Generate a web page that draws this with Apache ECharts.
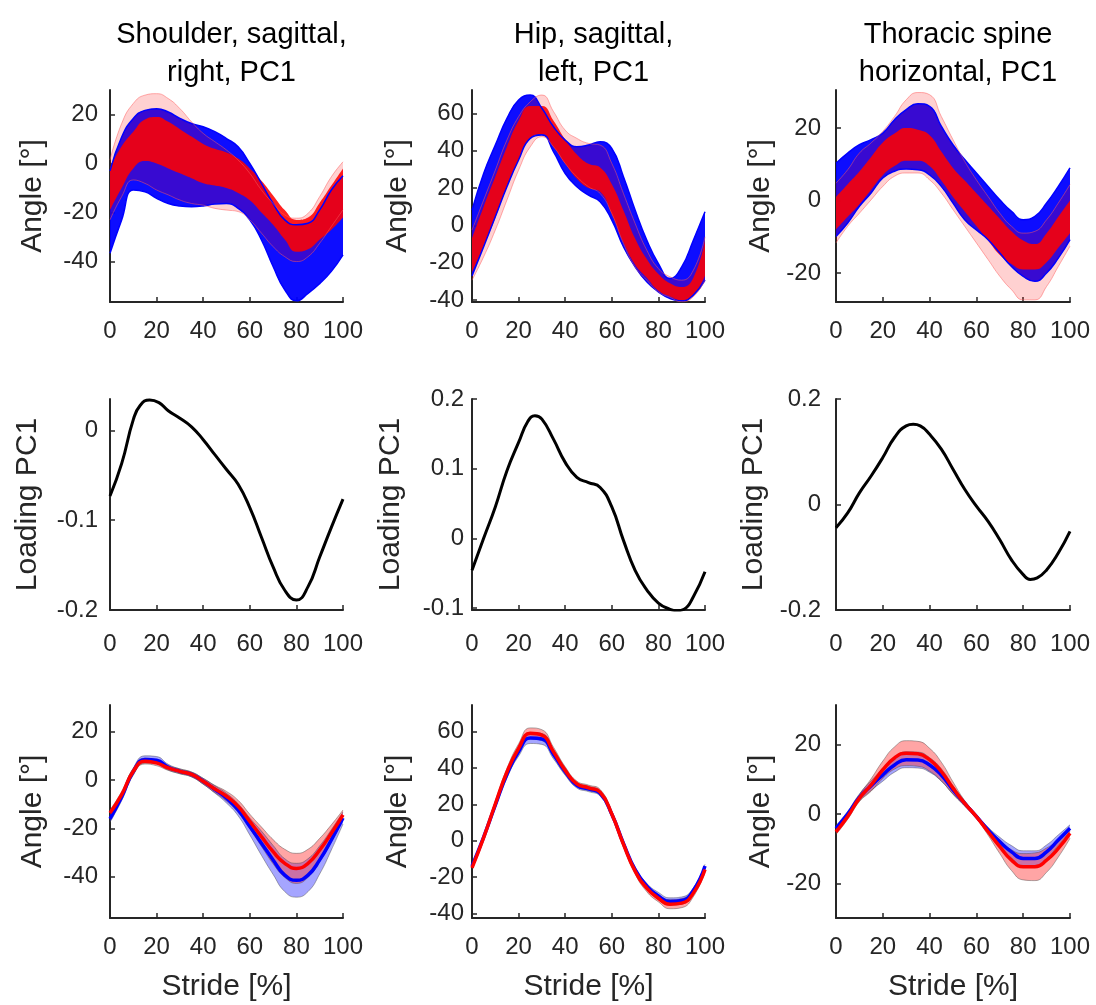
<!DOCTYPE html>
<html><head><meta charset="utf-8">
<script src="https://cdn.jsdelivr.net/npm/echarts@6/dist/echarts.min.js"></script>
<style>html,body{margin:0;padding:0;background:#fff}#c{width:1096px;height:1005px}</style>
</head><body><div id="c"></div><script>
// ---------------- DATA ----------------
const stride = [0,5,10,15,20,25,30,35,40,45,50,55,60,65,70,75,80,85,90,95,100];
const xTickLabels = [0,20,40,60,80,100];
const panelTitles = ['Shoulder, sagittal,\nright, PC1', 'Hip, sagittal,\nleft, PC1', 'Thoracic spine\nhorizontal, PC1'];
const angleName = 'Angle [°]';
const loadingName = 'Loading PC1';
const strideName = 'Stride [%]';

const yTicksShoulder = [-40,-20,0,20];
const yTicksHip = [-40,-20,0,20,40,60];
const yTicksThor = [-20,0,20];
const yTicksLoadShoulder = [-0.2,-0.1,0];
const yTicksLoadHip = [-0.1,0,0.1,0.2];
const yTicksLoadThor = [-0.2,0,0.2];

// Row 1: curve envelopes (group 1 blue, group 2 red)
const shBlueHi = [-3,10.8,18.4,21.7,22.4,21,18.4,16.3,15,13,10.2,6.8,0,-8.1,-16.3,-23,-25,-24.4,-18.9,-10.8,-5];
const shBlueLo = [-36.6,-23,-10.8,-11.5,-14.2,-16.3,-17.3,-17.6,-17.3,-16.5,-16.3,-18.3,-23,-31.2,-42,-51.5,-56,-53,-49,-44,-37.3];
const shRedOutHi = [1.4,16.3,24.5,27.9,28.5,26.5,22.4,17,12.3,8.9,5.5,1.4,-4,-10.8,-16.3,-21,-22.3,-20.3,-13.5,-5.4,0.7];
const shRedOutLo = [-23,-13.5,-6.7,-8.1,-10.8,-12.8,-14.9,-16.3,-17,-18.3,-19,-19.6,-23,-28.4,-33.9,-38,-40,-38,-32.5,-25.7,-18.9];
const shRedCoreHi = [-2,7,13,18,19,17,14,11,8,6,4.5,2,-2,-7,-13,-19,-23,-22,-16,-9,-2];
const shRedCoreLo = [-19,-10,-2,1,0,-2,-4,-6,-8,-9,-10,-12,-15,-20,-25,-31,-36,-35,-31,-27,-22];

const hipBlueHi = [8.2,27.8,43,57.3,67.1,69.8,62.7,52.8,45.7,42.1,43,44.8,41.2,26.1,8.2,-7.9,-20.4,-28.4,-22.2,-7.9,7.3];
const hipBlueLo = [-27,-11.4,4.6,20.7,35,46.6,48.4,39.4,27.8,20.7,16.2,12.7,2.8,-11.4,-22.2,-30.2,-35.6,-39.1,-40.5,-37.3,-29.3];
const hipRedOutHi = [-2.5,13.6,29.6,45.7,58.2,66.2,69.8,60.9,51,46.6,43.9,43,33.2,17.1,1.1,-13.2,-23.1,-27.5,-29.3,-24,-6.1];
const hipRedOutLo = [-29.3,-16.8,-2.5,13.6,29.6,42.1,47.5,42.1,33.2,26.1,20.7,17.1,6.4,-9.7,-22.2,-29.3,-35.5,-38.5,-40.9,-38.2,-29.3];
const hipRedCoreHi = [-7,10,26,42,56,64,64,56,46,38,33,31,22,8,-7,-18,-26,-31,-33,-28,-8];
const hipRedCoreLo = [-25,-11,4,21,35,47,49,42,33,25,20,18,6,-9,-21,-28,-35,-38,-40,-37,-27];

const thBlueHi = [10.3,13.1,15.4,16.8,18.6,22.3,25.1,26.7,26,20.5,15.4,11.3,7.6,3.9,0.2,-3,-5.3,-4.4,-0.7,3.9,9];
const thBlueLo = [-9.9,-6.2,-1.6,2.1,6.2,8.1,8.7,8.5,7.1,3.9,-0.7,-5.3,-8.1,-10.8,-14.5,-18.2,-20.9,-22.3,-20,-15.9,-10.8];
const thRedOutHi = [4.8,8.5,13.1,15.9,19.1,23.2,27.8,29.8,29.2,23.2,16.8,10.8,5.7,1.1,-3.5,-7.1,-9,-8.5,-5.3,-0.7,4.4];
const thRedOutLo = [-11.7,-7.1,-3.5,0.2,3.9,6.7,7.6,7.6,5.7,2.1,-2.5,-7.1,-11.7,-16.3,-20.9,-24.6,-27.4,-27.4,-23.7,-18.2,-12.6];
const thRedCoreHi = [1,4.5,8,12,16,18.5,20,19.5,18,13.5,9,5.5,2,-1.5,-5,-8.5,-11,-12,-9,-4.5,0];
const thRedCoreLo = [-8,-4.5,-1,3,7,9.5,11,11,9.5,5.5,1,-3,-7,-11,-15,-17.5,-19,-19,-17,-13,-9];

// Row 2: PC1 loadings (stride positions and values)
const loadShoulderX = [0,5,10,13,17,21,25,30,35,40,45,50,55,60,65,70,75,80,85,90,95,100];
const loadShoulder = [-0.073,-0.037,0.012,0.028,0.034,0.031,0.022,0.0136,0.004,-0.0103,-0.027,-0.0435,-0.06,-0.086,-0.119,-0.152,-0.178,-0.189,-0.174,-0.141,-0.108,-0.0766];
const loadHipX = [0,5,10,15,20,24,27,30,35,40,45,50,55,60,65,70,75,80,85,88,91,95,100];
const loadHip = [-0.046,0,0.045,0.097,0.1376,0.168,0.176,0.171,0.142,0.109,0.0876,0.080,0.073,0.045,-0.003,-0.046,-0.074,-0.093,-0.102,-0.104,-0.102,-0.084,-0.048];
const loadThorX = [0,5,10,15,20,25,30,33,36,40,45,50,55,60,65,70,75,80,83,86,90,95,100];
const loadThor = [-0.044,-0.016,0.022,0.054,0.089,0.127,0.149,0.152,0.149,0.133,0.105,0.067,0.029,-0.003,-0.032,-0.067,-0.105,-0.133,-0.142,-0.139,-0.124,-0.092,-0.051];

// Row 3: group means and spreads
const shMeanBlue = [-16,-7,3.5,8.5,8.2,5.3,3.6,2.3,-0.5,-3.9,-7.5,-12.3,-19.2,-26.1,-33,-39.3,-41.4,-39.3,-33,-24.7,-15.7];
const shMeanRed = [-13.6,-6,3.6,7.8,7.1,5,3.6,2.3,-0.5,-3.7,-6.7,-10.9,-17.1,-23.4,-29.6,-34.4,-36.5,-34.4,-28.9,-22,-14.4];
const shSdBlue = [1.5,1.5,1.5,1.5,1.5,1.2,1,1,1.2,1.5,2,2.5,3.5,5,6,6.8,7,6.8,5.8,4.2,2.5];
const shSdRed = [1.2,1.2,1.2,1.2,1.2,1,1,1,1.2,1.5,2,2.5,3,4,5,5.8,6.2,5.8,4.8,3.5,2];

const hipMeanBlue = [-14,2,19.5,36.5,49,56.5,56,47.5,38,30.5,28.5,26,14.5,-1.5,-16,-25,-30.5,-33.5,-33,-27.5,-14];
const hipMeanRed = [-15,1.7,20.2,37.8,50.8,59.1,58.1,48.9,38.7,31.3,29.1,26.7,14.7,-2,-16.8,-26.1,-31.7,-35,-34.4,-28.9,-15.9];
const hipSdBlue = [0.8,1,1.5,2,2.5,3,3,2.5,2,1.5,1.5,1.5,1.2,1.2,1.5,1.5,2,2,2,1.5,1];
const hipSdRed = [0.8,1,1.5,2,2.5,3,3,2.5,2,1.5,1.5,1.5,1.5,1.5,1.5,2,2,2.5,2.5,2,1.5];

const thMeanBlue = [-4.1,0,4.8,8.2,11.3,14.2,15.7,15.6,14.2,11.3,7,3.1,-0.7,-4.6,-8,-10.9,-12.8,-12.8,-10.9,-7.5,-4.1];
const thMeanRed = [-5.1,-0.7,4.6,8.4,12.8,16.2,17.6,17.4,15.7,12.3,7.5,3.1,-0.7,-5.1,-9.4,-13.3,-15.2,-15.2,-13.3,-9.9,-5.5];
const thSdBlue = [0.8,0.8,1,1.4,1.8,2.1,2.3,2.3,2.1,1.8,1.2,0.7,0.5,0.8,1.3,1.8,2.2,2.2,2,1.5,1];
const thSdRed = [0.8,0.8,1,1.8,2.5,3.2,3.6,3.6,3.3,2.7,1.8,0.8,0.5,1,2,3,3.8,4,3.5,2.5,1.5];

// ---------------- LAYOUT / STYLE ----------------
const FONT = '"Liberation Sans", Arial, Helvetica, sans-serif';
const INK = '#262626';
const SM = 0.5;
const colLeft = [110, 472, 836];
const colWidth = [233, 233, 234];
const rowTop = [90, 399, 705];
const rowHeight = [212, 211, 213];
const yLabelMargin = [12, 8, 15];
const yNameGap = [[62, 59, 60], [67, 66, 67], [62, 59, 60]];
const xLabelMargin = [17, 22, 17];

const panels = [
  {min:-56.5, max:30, ticks:yTicksShoulder, name:angleName},
  {min:-41, max:72.5, ticks:yTicksHip, name:angleName},
  {min:-28, max:30.5, ticks:yTicksThor, name:angleName},
  {min:-0.2, max:0.035, ticks:yTicksLoadShoulder, name:loadingName},
  {min:-0.103, max:0.2, ticks:yTicksLoadHip, name:loadingName},
  {min:-0.2, max:0.2, ticks:yTicksLoadThor, name:loadingName},
  {min:-57, max:31, ticks:yTicksShoulder, name:angleName},
  {min:-42.6, max:74.7, ticks:yTicksHip, name:angleName},
  {min:-30, max:31.5, ticks:yTicksThor, name:angleName}
];

const grid = [], xAxis = [], yAxis = [], series = [];
const isXTick = (idx, val) => xTickLabels.indexOf(Number(val)) >= 0;

panels.forEach((p, k) => {
  const row = Math.floor(k / 3), col = k % 3;
  grid.push({left: colLeft[col], top: rowTop[row], width: colWidth[col], height: rowHeight[row], containLabel: false});
  let xa;
  const axisLine = {onZero: false, lineStyle: {color: INK, width: 2}};
  const labelStyle = {fontSize: 24, color: INK, fontFamily: FONT, margin: xLabelMargin[row]};
  if (row === 1) {
    xa = {gridIndex: k, type: 'value', min: 0, max: 100, interval: 20, axisLine: axisLine,
      axisTick: {inside: true, length: 5, lineStyle: {color: INK, width: 1.5}},
      axisLabel: labelStyle, splitLine: {show: false}};
  } else {
    xa = {gridIndex: k, type: 'category', data: stride.map(String), boundaryGap: false, axisLine: axisLine,
      axisTick: {inside: true, length: 5, interval: isXTick, lineStyle: {color: INK, width: 1.5}},
      axisLabel: Object.assign({interval: isXTick}, labelStyle), splitLine: {show: false}};
  }
  if (row === 2) {
    xa.name = strideName; xa.nameLocation = 'middle'; xa.nameGap = 54;
    xa.nameTextStyle = {fontSize: 30, color: INK, fontFamily: FONT};
  }
  xAxis.push(xa);
  yAxis.push({
    gridIndex: k, type: 'value', min: p.min, max: p.max,
    axisLine: {show: true, onZero: false, lineStyle: {color: INK, width: 2}},
    axisTick: {show: true, inside: true, length: 5, customValues: p.ticks, lineStyle: {color: INK, width: 1.5}},
    axisLabel: {customValues: p.ticks, fontSize: 24, color: INK, fontFamily: FONT, margin: yLabelMargin[col], formatter: v => String(v)},
    splitLine: {show: false},
    name: p.name, nameLocation: 'middle', nameGap: yNameGap[row][col],
    nameTextStyle: {fontSize: 30, color: INK, fontFamily: FONT}
  });
});

function band(ax, lo, hi, fill, edge, edgeWidth, key) {
  const diff = hi.map((h, i) => +(h - lo[i]).toFixed(4));
  const common = {type: 'line', xAxisIndex: ax, yAxisIndex: ax, stack: key, stackStrategy: 'all',
    symbol: 'none', smooth: SM, silent: true, animation: false};
  const ls = edge ? {color: edge, width: edgeWidth} : {width: 0, opacity: 0};
  return [
    Object.assign({}, common, {data: lo, lineStyle: ls}),
    Object.assign({}, common, {data: diff, lineStyle: ls, areaStyle: {color: fill, opacity: 1}})
  ];
}
function line(ax, data, color, width) {
  return {type: 'line', xAxisIndex: ax, yAxisIndex: ax, data: data, symbol: 'none', smooth: SM,
    silent: true, animation: false, lineStyle: {color: color, width: width}};
}

// Row 1 spaghetti envelopes
const row1 = [
  [shBlueLo, shBlueHi, shRedOutLo, shRedOutHi, shRedCoreLo, shRedCoreHi],
  [hipBlueLo, hipBlueHi, hipRedOutLo, hipRedOutHi, hipRedCoreLo, hipRedCoreHi],
  [thBlueLo, thBlueHi, thRedOutLo, thRedOutHi, thRedCoreLo, thRedCoreHi]
];
row1.forEach((d, c) => {
  series.push(...band(c, d[0], d[1], 'rgba(0,0,255,0.95)', 'rgba(0,0,255,1)', 1.5, 'b' + c));
  series.push(...band(c, d[2], d[3], 'rgba(255,0,0,0.18)', 'rgba(255,90,90,0.5)', 1, 'ro' + c));
  series.push(...band(c, d[4], d[5], 'rgba(255,0,0,0.87)', null, 0, 'rc' + c));
});

// Row 2 loadings
[[loadShoulderX, loadShoulder], [loadHipX, loadHip], [loadThorX, loadThor]].forEach((d, c) =>
  series.push(line(3 + c, d[0].map((x, i) => [x, d[1][i]]), '#000000', 3)));

// Row 3 mean +/- spread
const row3 = [
  [shMeanBlue, shSdBlue, shMeanRed, shSdRed],
  [hipMeanBlue, hipSdBlue, hipMeanRed, hipSdRed],
  [thMeanBlue, thSdBlue, thMeanRed, thSdRed]
];
row3.forEach((d, c) => {
  const ax = 6 + c;
  const bLo = d[0].map((m, i) => m - d[1][i]), bHi = d[0].map((m, i) => m + d[1][i]);
  const rLo = d[2].map((m, i) => m - d[3][i]), rHi = d[2].map((m, i) => m + d[3][i]);
  series.push(...band(ax, bLo, bHi, 'rgba(40,40,255,0.42)', 'rgba(70,70,70,0.55)', 0.8, 'sb' + c));
  series.push(...band(ax, rLo, rHi, 'rgba(255,40,40,0.42)', 'rgba(70,70,70,0.55)', 0.8, 'sr' + c));
  series.push(line(ax, d[0], '#0000ff', 3.5));
  series.push(line(ax, d[2], '#ff0000', 3.5));
});

const titleCenters = colLeft.map((l, i) => l + colWidth[i] / 2);
const chart = echarts.init(document.getElementById('c'), null, {renderer: 'canvas'});
chart.setOption({
  backgroundColor: '#ffffff',
  animation: false,
  title: panelTitles.map((t, i) => ({
    text: t, left: titleCenters[i], top: 11, textAlign: 'center',
    textStyle: {fontSize: 29, fontWeight: 'normal', color: '#000', lineHeight: 38, fontFamily: FONT}
  })),
  grid: grid, xAxis: xAxis, yAxis: yAxis, series: series
});
</script></body></html>
